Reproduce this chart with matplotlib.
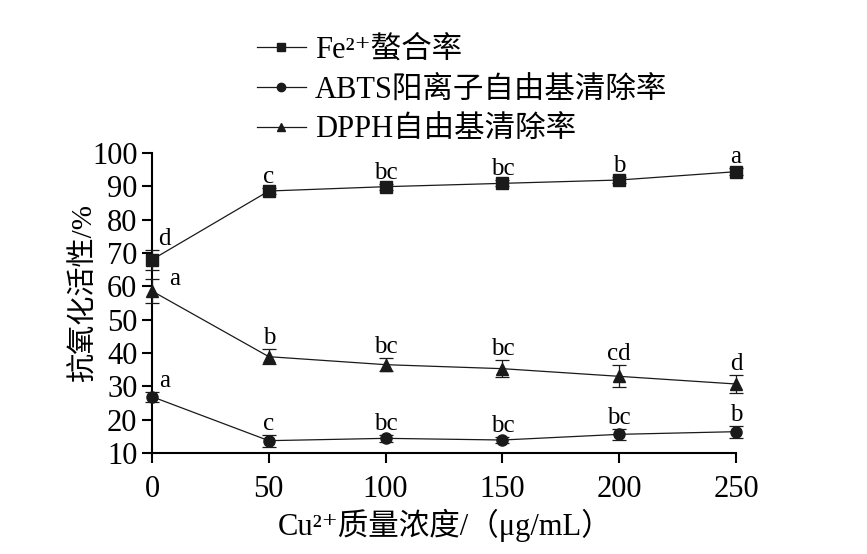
import matplotlib
matplotlib.use("Agg")
import matplotlib.pyplot as plt
from matplotlib.lines import Line2D

plt.rcParams['font.family'] = ['Liberation Serif', 'DejaVu Serif', 'Noto Sans CJK SC']

conc = [0, 50, 100, 150, 200, 250]

fe_vals = [68.0, 88.6, 89.9, 90.9, 91.9, 94.4]
fe_err = [3.0, 1.0, 0.9, 0.9, 0.9, 1.0]
fe_sig = ['d', 'c', 'bc', 'bc', 'b', 'a']

abts_vals = [26.9, 13.7, 14.4, 13.9, 15.6, 16.4]
abts_err = [1.5, 1.8, 1.0, 0.9, 1.7, 1.8]
abts_sig = ['a', 'c', 'bc', 'bc', 'bc', 'b']

dpph_vals = [58.6, 38.9, 36.5, 35.3, 33.0, 30.7]
dpph_err = [3.6, 2.3, 2.0, 2.6, 3.3, 2.6]
dpph_sig = ['a', 'b', 'bc', 'bc', 'cd', 'd']

labels = ['Fe²⁺螯合率', 'ABTS阳离子自由基清除率', 'DPPH自由基清除率']
xlabel = 'Cu²⁺质量浓度/（μg/mL）'
ylabel = '抗氧化活性/%'
xticks = [0, 50, 100, 150, 200, 250]
yticks = [10, 20, 30, 40, 50, 60, 70, 80, 90, 100]

fig = plt.figure(figsize=(8.67, 5.54), dpi=100)
ax = fig.add_axes([0.1753, 0.1823, 0.849 - 0.1753, 0.7238 - 0.1823])

series = [
    (fe_vals, fe_err, fe_sig, 's'),
    (abts_vals, abts_err, abts_sig, 'o'),
    (dpph_vals, dpph_err, dpph_sig, '^'),
]
handles = []
for vals, err, sig, mk in series:
    ax.errorbar(conc, vals, yerr=err, color='#1a1a1a', ecolor='#1a1a1a',
                marker=mk, markersize=8, linewidth=0.9, elinewidth=0.9,
                capsize=5, capthick=0.9, clip_on=False, zorder=3)
    handles.append(Line2D([], [], color='#1a1a1a', marker=mk, markersize=6,
                          linewidth=0.9))

# significance letters
for k, (vals, err, sig, mk) in enumerate(series):
    for i, (x, y, e, s) in enumerate(zip(conc, vals, err, sig)):
        if i == 0:
            if mk == '^':
                ax.annotate(s, (x, y), xytext=(16, 1), textcoords='offset points',
                            ha='center', va='bottom', fontsize=18)
            else:
                ax.annotate(s, (x, y + e), xytext=(9, 0), textcoords='offset points',
                            ha='center', va='bottom', fontsize=18)
        else:
            ax.annotate(s, (x, y + e), xytext=(0, 0), textcoords='offset points',
                        ha='center', va='bottom', fontsize=18)

ax.set_xlim(0, 250)
ax.set_ylim(10, 100)
ax.set_xticks(xticks)
ax.set_yticks(yticks)
ax.tick_params(axis='both', direction='out', length=7.5, width=1.5, labelsize=22)
ax.tick_params(axis='x', pad=8)
ax.tick_params(axis='y', pad=3)
for s in ['top', 'right']:
    ax.spines[s].set_visible(False)
for s in ['left', 'bottom']:
    ax.spines[s].set_linewidth(1.5)

ax.set_xlabel(xlabel, fontsize=22)
ax.set_ylabel(ylabel, fontsize=21)
ax.xaxis.set_label_coords(0.502, -0.185)
ax.yaxis.set_label_coords(-0.093, 0.533)

fig.legend(handles=handles, labels=labels, loc='upper left',
           bbox_to_anchor=(0.282, 0.958), frameon=False, fontsize=22,
           handlelength=1.6, handletextpad=0.3, labelspacing=0.36,
           borderaxespad=0)

fig.savefig('out.png', dpi=100)
